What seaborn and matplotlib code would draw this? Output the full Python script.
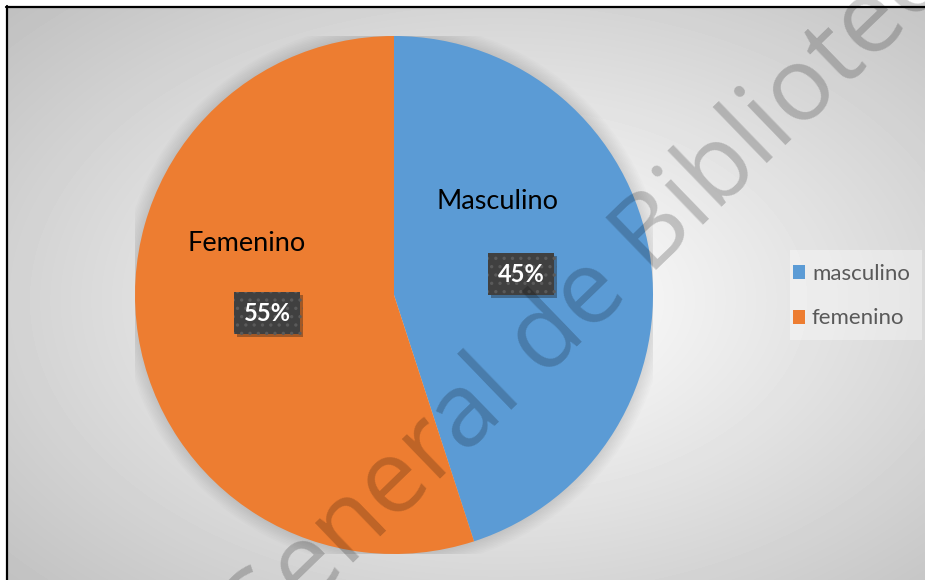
import numpy as np
import matplotlib
matplotlib.use("Agg")
import matplotlib.pyplot as plt
import matplotlib.patheffects as pe
import seaborn as sns
from matplotlib.patches import Rectangle, Circle, Patch

# Datos del grafico
categorias = ["masculino", "femenino"]
etiquetas = ["Masculino", "Femenino"]
porcentajes = [45, 55]
colores = ["#5B9BD5", "#ED7D31"]

# posiciones de las etiquetas (coordenadas del pastel)
pos_nombre = [(0.40, 0.36), (-0.57, 0.20)]
pos_pct = [(0.49, 0.08), (-0.49, -0.07)]

sns.set_theme(style="white")
plt.rcParams["font.family"] = ["Lato", "DejaVu Sans"]
plt.rcParams["hatch.linewidth"] = 1.2

W, H = 925, 580
fig = plt.figure(figsize=(W / 100, H / 100), dpi=100)

# --- fondo con degradado radial ---
bg = fig.add_axes([0, 0, 1, 1])
yy, xx = np.mgrid[0:H, 0:W]
d = np.sqrt(((xx - 500) / 462.0) ** 2 + ((yy - 300) / 290.0) ** 2)
gris = np.clip(258 - 45 * d, 190, 252) / 255
bg.imshow(gris, cmap="gray", vmin=0, vmax=1, extent=[0, W, H, 0], aspect="auto")
bg.add_patch(Rectangle((0, 0), W, 6, color="white", lw=0))
bg.add_patch(Rectangle((0, 0), 6, H, color="white", lw=0))
bg.plot([7, 7], [6, H], color="black", lw=1.6)
bg.plot([6, W], [7, 7], color="black", lw=1.6)
# caja de la leyenda
bg.add_patch(Rectangle((790, 250), 132, 90, facecolor="white", alpha=0.35, lw=0))
bg.set_xlim(0, W)
bg.set_ylim(H, 0)
bg.axis("off")

# --- pastel ---
cx, cy, r = 394, 295, 259
ax = fig.add_axes([(cx - r) / W, (H - cy - r) / H, 2 * r / W, 2 * r / H])
ax.patch.set_alpha(0)

# sombra suave alrededor del pastel
for i in range(10):
    ax.add_patch(Circle((0, 0), 1 + 0.006 * i, color="black", alpha=0.012, lw=0, zorder=0))

ax.pie(porcentajes, colors=colores, startangle=90, counterclock=False,
       wedgeprops=dict(linewidth=0, zorder=1))
ax.set_xlim(-1, 1)
ax.set_ylim(-1, 1)
ax.axis("off")

for nombre, pct, pn, pp in zip(etiquetas, porcentajes, pos_nombre, pos_pct):
    ax.text(pn[0], pn[1], nombre, ha="center", va="center", fontsize=19.5,
            color="black", zorder=5)
    t = ax.text(pp[0], pp[1], f"{pct}%", ha="center", va="center", fontsize=17,
                fontweight="bold", color="white", zorder=5,
                bbox=dict(boxstyle="square,pad=0.4", fc="#404040", ec="#5a5a5a",
                          lw=0, hatch=".."))
    t.get_bbox_patch().set_path_effects(
        [pe.SimplePatchShadow(offset=(2, -2), alpha=0.35), pe.Normal()])

# --- leyenda ---
handles = [Patch(facecolor=c, edgecolor="none") for c in colores]
leg = fig.legend(handles, categorias, loc="upper left",
                 bbox_to_anchor=(793 / W, 1 - 264 / H), frameon=False,
                 fontsize=16, handlelength=0.55, handleheight=0.6,
                 handletextpad=0.3, labelspacing=1.1, borderpad=0,
                 borderaxespad=0, labelcolor="#595959")

# --- marca de agua ---
fig.text(252 / W, 1 - 660 / H, "General de Bibliotecas", rotation=44,
         rotation_mode="anchor", ha="left", va="baseline", fontsize=74,
         family=["Open Sans", "DejaVu Sans"], color="black", alpha=0.2, zorder=10)

fig.savefig("out.png", dpi=100)
